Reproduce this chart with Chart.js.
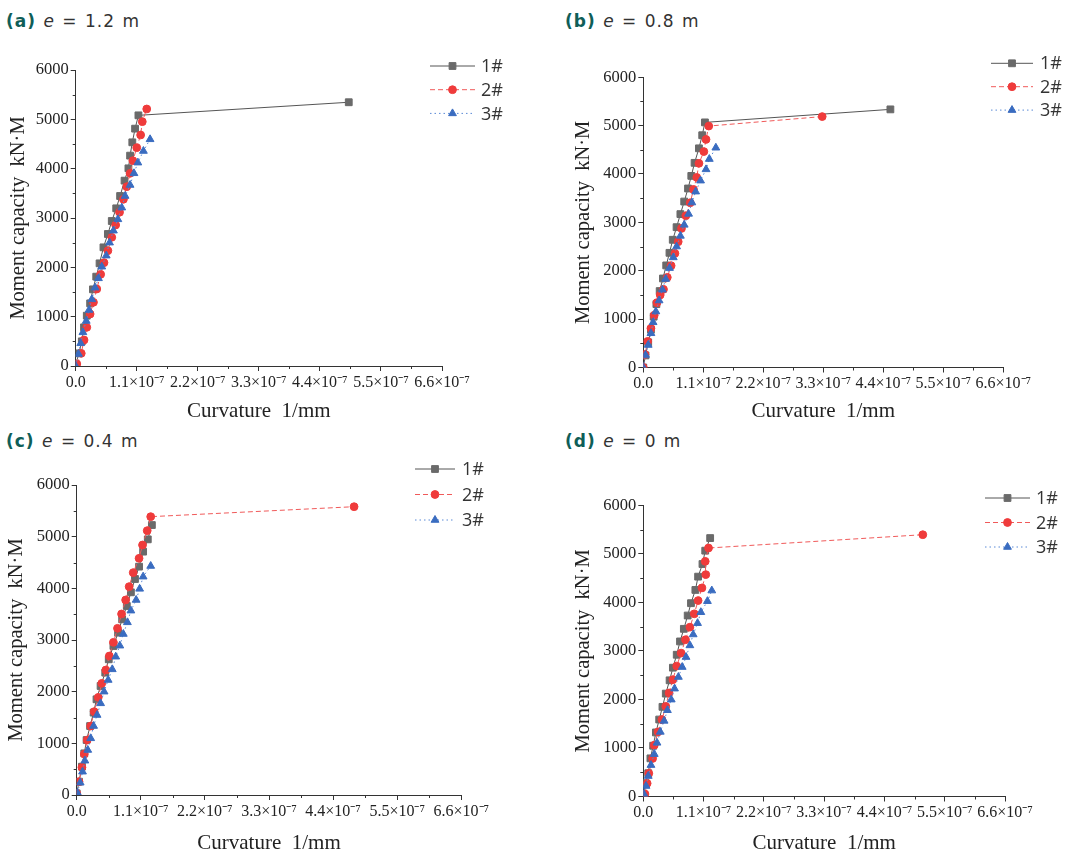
<!DOCTYPE html>
<html lang="en">
<head>
<meta charset="UTF-8">
<title>Moment capacity vs curvature</title>
<script src="https://cdn.jsdelivr.net/npm/chart.js"></script>
<style>
  body { margin: 0; background: #fff; }
  #wrap { position: relative; width: 1066px; height: 857px; overflow: hidden; }
  canvas { position: absolute; }
  .ttl { position: absolute; font-family: 'DejaVu Sans', sans-serif; font-size: 17px; line-height: 1;
         color: #333; white-space: nowrap; letter-spacing: 1px; word-spacing: 1px; }
  .ttl b { color: #0f5e58; font-weight: 700; }
</style>
</head>
<body>
<div id="wrap">
  <div class="ttl" style="left:6px;top:13px"><b>(a)</b> <i>e</i> = 1.2 m</div>
  <div class="ttl" style="left:565px;top:13px"><b>(b)</b> <i>e</i> = 0.8 m</div>
  <div class="ttl" style="left:6px;top:433px"><b>(c)</b> <i>e</i> = 0.4 m</div>
  <div class="ttl" style="left:565px;top:433px"><b>(d)</b> <i>e</i> = 0 m</div>
  <canvas id="pa" width="533" height="428" style="left:0;top:0"></canvas>
  <canvas id="pb" width="533" height="428" style="left:533px;top:0"></canvas>
  <canvas id="pc" width="533" height="429" style="left:0;top:428px"></canvas>
  <canvas id="pd" width="533" height="429" style="left:533px;top:428px"></canvas>
</div>
<script>
// curvature in units of 1e-7 1/mm, moment in kN·M
const seriesNames = ['1#', '2#', '3#'];
const xTicks = [0, 1.1, 2.2, 3.3, 4.4, 5.5, 6.6];
const yTicks = [0, 1000, 2000, 3000, 4000, 5000, 6000];

// (a) e = 1.2 m
const a1x = [0, 0.06, 0.11, 0.15, 0.20, 0.26, 0.31, 0.37, 0.43, 0.50, 0.58, 0.65, 0.73, 0.80, 0.88, 0.95, 0.98, 1.02, 1.07, 1.13, 4.92];
const a1y = [40, 257, 500, 784, 1020, 1270, 1554, 1811, 2081, 2405, 2676, 2939, 3196, 3446, 3757, 4007, 4264, 4534, 4811, 5081, 5346];
const a2x = [0.02, 0.10, 0.15, 0.20, 0.26, 0.32, 0.38, 0.45, 0.51, 0.58, 0.65, 0.72, 0.79, 0.86, 0.92, 0.98, 1.03, 1.10, 1.17, 1.20, 1.28];
const a2y = [41, 257, 527, 784, 1054, 1291, 1561, 1858, 2095, 2338, 2609, 2858, 3116, 3379, 3635, 3906, 4162, 4426, 4683, 4953, 5210];
const a3x = [0, 0.05, 0.09, 0.13, 0.19, 0.24, 0.29, 0.35, 0.41, 0.47, 0.55, 0.61, 0.68, 0.76, 0.83, 0.89, 0.98, 1.05, 1.12, 1.22, 1.34];
const a3y = [0, 243, 460, 682, 912, 1135, 1351, 1588, 1777, 2013, 2237, 2500, 2743, 2973, 3210, 3446, 3669, 3906, 4122, 4358, 4595];

// (b) e = 0.8 m
const b1x = [0, 0.04, 0.09, 0.14, 0.19, 0.24, 0.30, 0.36, 0.42, 0.48, 0.54, 0.61, 0.68, 0.75, 0.82, 0.88, 0.94, 1.02, 1.08, 1.13, 4.53];
const b1y = [0, 250, 520, 780, 1050, 1310, 1580, 1840, 2110, 2370, 2640, 2900, 3170, 3430, 3700, 3960, 4230, 4530, 4800, 5066, 5335];
const b2x = [0, 0.03, 0.08, 0.14, 0.20, 0.25, 0.31, 0.37, 0.44, 0.51, 0.58, 0.64, 0.70, 0.78, 0.86, 0.92, 0.98, 1.02, 1.11, 1.15, 1.20, 3.28];
const b2y = [0, 270, 540, 810, 1080, 1340, 1500, 1615, 1863, 2104, 2359, 2600, 2875, 3137, 3405, 3681, 3929, 4220, 4463, 4714, 4990, 5186];
const b3x = [0, 0.04, 0.09, 0.14, 0.18, 0.23, 0.29, 0.35, 0.41, 0.48, 0.55, 0.61, 0.68, 0.75, 0.83, 0.89, 0.96, 1.05, 1.15, 1.21, 1.33];
const b3y = [0, 258, 465, 707, 934, 1157, 1384, 1607, 1828, 2054, 2275, 2500, 2720, 2948, 3175, 3409, 3635, 3862, 4095, 4308, 4542];

// (c) e = 0.4 m
const c1x = [0, 0.04, 0.09, 0.13, 0.17, 0.23, 0.29, 0.34, 0.41, 0.49, 0.55, 0.63, 0.71, 0.78, 0.86, 0.93, 1.00, 1.07, 1.14, 1.22, 1.29];
const c1y = [32, 258, 548, 806, 1064, 1335, 1594, 1852, 2110, 2368, 2626, 2884, 3142, 3400, 3658, 3923, 4181, 4420, 4710, 4948, 5225];
const c2x = [0, 0.04, 0.09, 0.13, 0.18, 0.24, 0.30, 0.37, 0.43, 0.50, 0.56, 0.63, 0.70, 0.77, 0.84, 0.90, 0.97, 1.07, 1.13, 1.21, 1.27, 4.76];
const c2y = [32, 258, 535, 793, 1064, 1335, 1613, 1890, 2161, 2419, 2690, 2955, 3226, 3504, 3775, 4033, 4304, 4581, 4839, 5116, 5387, 5580];
const c3x = [0.01, 0.06, 0.10, 0.14, 0.19, 0.24, 0.29, 0.35, 0.41, 0.47, 0.54, 0.61, 0.67, 0.74, 0.80, 0.87, 0.93, 1.02, 1.08, 1.14, 1.27];
const c3y = [45, 238, 451, 664, 871, 1097, 1335, 1548, 1774, 2000, 2226, 2432, 2677, 2890, 3116, 3342, 3568, 3775, 3990, 4226, 4432];

// (d) e = 0 m
const d1x = [0, 0.04, 0.09, 0.13, 0.18, 0.23, 0.29, 0.35, 0.41, 0.48, 0.54, 0.61, 0.67, 0.74, 0.81, 0.87, 0.95, 1.00, 1.08, 1.13, 1.22];
const d1y = [36, 274, 479, 786, 1046, 1320, 1586, 1847, 2120, 2394, 2654, 2921, 3195, 3455, 3729, 3983, 4256, 4530, 4790, 5065, 5325];
const d2x = [0.03, 0.07, 0.10, 0.17, 0.20, 0.27, 0.34, 0.41, 0.47, 0.54, 0.61, 0.69, 0.77, 0.85, 0.93, 1.00, 1.07, 1.14, 1.13, 1.19, 5.10];
const d2y = [51, 271, 477, 785, 1058, 1332, 1586, 1859, 2133, 2408, 2688, 2955, 3230, 3489, 3764, 4037, 4298, 4572, 4845, 5120, 5394];
const d3x = [0.01, 0.05, 0.09, 0.14, 0.20, 0.25, 0.31, 0.38, 0.44, 0.51, 0.57, 0.64, 0.71, 0.78, 0.85, 0.91, 0.99, 1.05, 1.17, 1.25];
const d3y = [51, 216, 421, 647, 873, 1106, 1331, 1558, 1777, 1996, 2222, 2462, 2667, 2873, 3113, 3338, 3571, 3797, 4024, 4243];

const styles = [
  { borderColor: '#555555', borderDash: [], pointStyle: 'rect', pointRadius: 4.8, color: '#6a6a6a' },
  { borderColor: '#f05a5a', borderDash: [5, 3], pointStyle: 'circle', pointRadius: 3.9, color: '#ef3b3b' },
  { borderColor: '#5b8ad6', borderDash: [1.5, 3], pointStyle: 'triangle', pointRadius: 4.5, color: '#3a6cc0' }
];

function pts(xs, ys) { return xs.map((x, i) => ({ x: x, y: ys[i] })); }

// short minor ticks halfway between the major ones
const minorTicks = {
  id: 'minorTicks',
  afterDraw(chart) {
    const ctx = chart.ctx;
    ctx.save();
    ctx.strokeStyle = '#333';
    ctx.lineWidth = 1;
    const xs = chart.scales.x, ys = chart.scales.y;
    for (let i = 0; i < xTicks.length - 1; i++) {
      const px = Math.round(xs.getPixelForValue((xTicks[i] + xTicks[i + 1]) / 2)) + 0.5;
      ctx.beginPath(); ctx.moveTo(px, xs.top); ctx.lineTo(px, xs.top + 3); ctx.stroke();
    }
    for (let i = 0; i < yTicks.length - 1; i++) {
      const py = Math.round(ys.getPixelForValue((yTicks[i] + yTicks[i + 1]) / 2)) + 0.5;
      ctx.beginPath(); ctx.moveTo(ys.right, py); ctx.lineTo(ys.right - 3, py); ctx.stroke();
    }
    ctx.restore();
  }
};

// legend with line + marker, like the origin plot
const lineLegend = {
  id: 'lineLegend',
  afterDraw(chart, args, o) {
    const ctx = chart.ctx;
    chart.data.datasets.forEach((ds, i) => {
      const y = o.y + i * o.dy;
      ctx.save();
      ctx.strokeStyle = ds.borderColor;
      ctx.lineWidth = 1;
      ctx.setLineDash(ds.borderDash);
      ctx.beginPath(); ctx.moveTo(o.x0, y); ctx.lineTo(o.x1, y); ctx.stroke();
      ctx.setLineDash([]);
      ctx.fillStyle = ds.pointBackgroundColor;
      ctx.strokeStyle = ds.pointBorderColor;
      Chart.helpers.drawPoint(ctx, { pointStyle: ds.pointStyle, radius: ds.pointRadius, borderWidth: 1, rotation: 0 }, (o.x0 + o.x1) / 2, y);
      ctx.fillStyle = '#333';
      ctx.font = '18px "Open Sans"';
      ctx.textBaseline = 'middle';
      ctx.fillText(ds.label, o.tx, y + 1);
      ctx.restore();
    });
  }
};

function makePanel(id, series, box, legend) {
  const canvas = document.getElementById(id);
  const W = canvas.width, H = canvas.height;
  const datasets = series.map((s, i) => ({
    label: seriesNames[i],
    data: pts(s[0], s[1]),
    showLine: true,
    borderColor: styles[i].borderColor,
    borderWidth: 1,
    borderDash: styles[i].borderDash,
    pointStyle: styles[i].pointStyle,
    pointRadius: styles[i].pointRadius,
    pointBackgroundColor: styles[i].color,
    pointBorderColor: styles[i].color,
    pointBorderWidth: 1,
    tension: 0,
    order: 3 - i
  }));
  new Chart(canvas, {
    type: 'scatter',
    data: { datasets: datasets },
    plugins: [minorTicks, lineLegend],
    options: {
      responsive: false,
      animation: false,
      layout: { padding: { left: box.padLeft, top: box.top, right: W - box.right, bottom: box.padBottom } },
      plugins: {
        legend: { display: false },
        tooltip: { enabled: false },
        lineLegend: legend
      },
      scales: {
        x: {
          type: 'linear', min: 0, max: 6.6,
          afterFit: s => { s.height = H - box.bottom - box.padBottom; },
          afterBuildTicks: s => { s.ticks = xTicks.map(v => ({ value: v })); },
          border: { display: true, color: '#333', width: 1 },
          grid: { display: true, drawOnChartArea: false, drawTicks: true, tickLength: 5, color: '#333' },
          ticks: {
            autoSkip: false, maxRotation: 0, padding: 2, color: '#222',
            font: { family: 'Liberation Serif', size: 16 },
            callback: v => v === 0 ? '0.0' : v.toFixed(1) + '×10⁻⁷'
          },
          title: { display: true, text: 'Curvature  1/mm', color: '#222', padding: { top: 0, bottom: 0 },
                   font: { family: 'Liberation Serif', size: 21 } }
        },
        y: {
          type: 'linear', min: 0, max: 6000,
          afterFit: s => { s.width = box.left - box.padLeft; },
          afterBuildTicks: s => { s.ticks = yTicks.map(v => ({ value: v })); },
          border: { display: true, color: '#333', width: 1 },
          grid: { display: true, drawOnChartArea: false, drawTicks: true, tickLength: 5, color: '#333' },
          ticks: {
            padding: 2, color: '#222',
            font: { family: 'Liberation Serif', size: 16.5 },
            callback: v => String(v)
          },
          title: { display: true, text: 'Moment capacity  kN·M', color: '#222', padding: { top: box.yTitlePad, bottom: 0 },
                   font: { family: 'Liberation Serif', size: 20.5 } }
        }
      }
    }
  });
}

makePanel('pa', [[a1x, a1y], [a2x, a2y], [a3x, a3y]],
  { left: 75.7, right: 442, top: 70, bottom: 366, padLeft: 0, padBottom: 4, yTitlePad: 6 },
  { x0: 430, x1: 475, tx: 481, y: 66, dy: 23.7 });
makePanel('pb', [[b1x, b1y], [b2x, b2y], [b3x, b3y]],
  { left: 110.3, right: 470.3, top: 77.2, bottom: 367.5, padLeft: 32, padBottom: 4, yTitlePad: 6 },
  { x0: 458, x1: 500, tx: 507, y: 63.3, dy: 23.4 });
makePanel('pc', [[c1x, c1y], [c2x, c2y], [c3x, c3y]],
  { left: 76.7, right: 461.3, top: 57, bottom: 367, padLeft: 0, padBottom: 1, yTitlePad: 4 },
  { x0: 415, x1: 455, tx: 462, y: 41, dy: 25.5 });
makePanel('pd', [[d1x, d1y], [d2x, d2y], [d3x, d3y]],
  { left: 110.3, right: 472, top: 77.3, bottom: 368.5, padLeft: 32, padBottom: 1, yTitlePad: 6 },
  { x0: 452, x1: 497, tx: 503, y: 70, dy: 24.5 });
</script>
</body>
</html>
